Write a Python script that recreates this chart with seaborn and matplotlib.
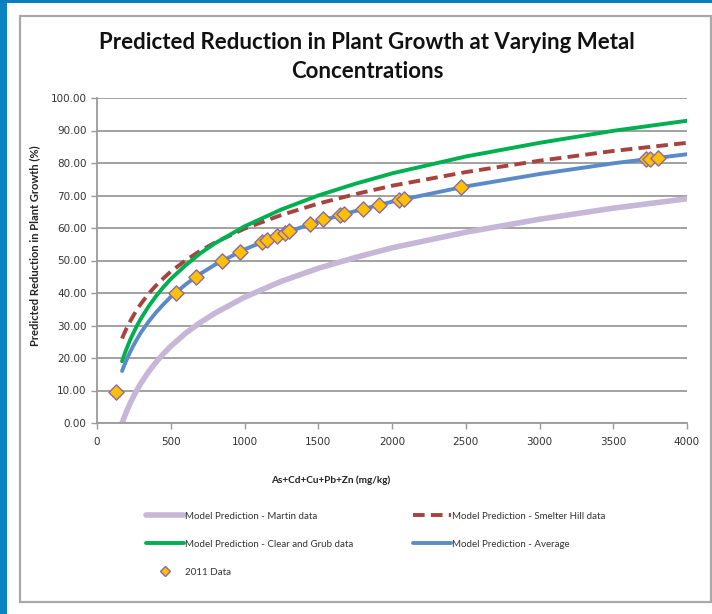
import numpy as np
import pandas as pd
import matplotlib
matplotlib.use("Agg")
import matplotlib.pyplot as plt
from matplotlib.patches import Rectangle
from matplotlib.lines import Line2D
import seaborn as sns

# ---- data ----
conc = [170, 180, 190, 200, 225, 250, 275, 300, 350, 400, 450, 500, 600, 700,
        800, 1000, 1250, 1500, 1750, 2000, 2500, 3000, 3500, 4000]
martin = [0.0, 1.2, 2.4, 3.5, 6.1, 8.4, 10.5, 12.4, 15.8, 18.7, 21.3, 23.6,
          27.6, 30.9, 33.8, 38.7, 43.6, 47.6, 50.9, 53.9, 58.7, 62.7, 66.1, 69.0]
smelter = [26.0, 27.1, 28.1, 29.1, 31.3, 33.3, 35.2, 36.8, 39.8, 42.3, 44.5,
           46.6, 50.0, 53.0, 55.5, 59.8, 64.0, 67.5, 70.4, 73.0, 77.2, 80.7,
           83.7, 86.2]
clear_grub = [19.0, 20.3, 21.6, 22.8, 25.6, 28.0, 30.3, 32.3, 35.9, 39.0, 41.8,
              44.3, 48.5, 52.2, 55.3, 60.5, 65.7, 70.0, 73.6, 76.8, 82.0, 86.2,
              89.9, 93.0]
average = [16.0, 17.2, 18.3, 19.4, 21.9, 24.1, 26.1, 28.0, 31.2, 34.0, 36.5,
           38.8, 42.6, 45.9, 48.7, 53.4, 58.1, 62.0, 65.2, 68.1, 72.8, 76.6,
           79.9, 82.7]

data2011_x = [130, 533, 671, 845, 970, 1117, 1155, 1218, 1275, 1304, 1444, 1534,
              1647, 1675, 1806, 1910, 2047, 2083, 2468, 3720, 3750, 3800]
data2011_y = [9.6, 40.1, 45.0, 49.7, 52.6, 55.8, 56.4, 57.6, 58.6, 59.1, 61.2,
              62.7, 63.9, 64.2, 65.9, 67.2, 68.6, 68.9, 72.5, 81.1, 81.3, 81.6]

series_names = ["Model Prediction - Martin data",
                "Model Prediction - Smelter Hill data",
                "Model Prediction - Clear and Grub data",
                "Model Prediction - Average"]
scatter_name = "2011 Data"
title = "Predicted Reduction in Plant Growth at Varying Metal\nConcentrations"
xlabel = "As+Cd+Cu+Pb+Zn (mg/kg)"
ylabel = "Predicted Reduction in Plant Growth (%)"
xticks = [0, 500, 1000, 1500, 2000, 2500, 3000, 3500, 4000]
yticks = [0, 10, 20, 30, 40, 50, 60, 70, 80, 90, 100]

# ---- styles ----
colors = {series_names[0]: "#c6b6d8", series_names[1]: "#a8423e",
          series_names[2]: "#00b050", series_names[3]: "#5b8bc7"}
widths = {series_names[0]: 4.0, series_names[1]: 2.8,
          series_names[2]: 2.8, series_names[3]: 2.8}
dash_pat = (3.0, 1.6)

sns.set_theme(style="white")
plt.rcParams["font.family"] = ["DejaVu Sans"]

fig = plt.figure(figsize=(7.12, 6.14), dpi=100)
fig.patch.set_facecolor("white")

# slide background strip & chart frame
fig.patches.append(Rectangle((0, 0), 7 / 712, 1, transform=fig.transFigure,
                             facecolor="#0b84c6", edgecolor="none", zorder=-3))
fig.patches.append(Rectangle((0, 1 - 3 / 614), 1, 3 / 614, transform=fig.transFigure,
                             facecolor="#0b7cbd", edgecolor="none", zorder=-3))
fig.patches.append(Rectangle((20 / 712, 1 - 602 / 614), 691 / 712, 586 / 614,
                             transform=fig.transFigure, facecolor="white",
                             edgecolor="#a9a9a9", linewidth=1.6, zorder=-2))

ax = fig.add_axes([97 / 712, 1 - 423 / 614, 590 / 712, 325 / 614])
ax.set_zorder(2)
ax.set_facecolor("none")

df = pd.DataFrame({
    "conc": conc * 4,
    "value": martin + smelter + clear_grub + average,
    "series": sum([[n] * len(conc) for n in series_names], []),
})

for name in series_names:
    sub = df[df["series"] == name]
    sns.lineplot(data=sub, x="conc", y="value", ax=ax, color=colors[name],
                 linewidth=widths[name], legend=False,
                 zorder=3 if name != series_names[0] else 2)
    ax.lines[-1].set_solid_joinstyle("round")
    if name == series_names[1]:
        ax.lines[-1].set_linestyle("--")
        ax.lines[-1].set_dashes(dash_pat)

sns.scatterplot(x=data2011_x, y=data2011_y, ax=ax, marker="D", s=60,
                color="#ffc000", edgecolor="#8a6aa8", linewidth=1.0,
                zorder=5, legend=False)

ax.set_xlim(0, 4000)
ax.set_ylim(0, 100)
ax.set_xticks(xticks)
ax.set_yticks(yticks)
ax.set_xticklabels([str(t) for t in xticks])
ax.set_yticklabels([f"{t:.2f}" for t in yticks])
ax.yaxis.grid(True, color="#9a9a9a", linewidth=1.3)
ax.xaxis.grid(False)
for s in ["top", "right"]:
    ax.spines[s].set_visible(False)
for s in ["left", "bottom"]:
    ax.spines[s].set_color("#9a9a9a")
    ax.spines[s].set_linewidth(1.3)
ax.tick_params(axis="both", which="both", direction="out", length=4,
               width=1.0, color="#9a9a9a", labelsize=7.5, labelcolor="#333333",
               left=True, bottom=True)
ax.tick_params(axis="x", pad=6)
ax.set_xlabel("")
ax.set_ylabel("")

fig.text(331 / 712, 1 - 480 / 614, xlabel, ha="center", va="center",
         fontsize=7.2, fontweight="bold", color="#222222",
         family=["Lato", "DejaVu Sans"])
fig.text(35 / 712, 1 - 246 / 614, ylabel, ha="center", va="center",
         rotation=90, fontsize=8, fontweight="bold", color="#222222",
         family=["Lato", "DejaVu Sans"])
fig.text(367 / 712, 1 - 57 / 614, title, ha="center", va="center",
         fontsize=16, fontweight="bold", color="#111111", linespacing=1.45,
         family=["Lato", "DejaVu Sans"])

def line_handle(name):
    h = Line2D([], [], color=colors[name], linewidth=widths[name])
    if name == series_names[1]:
        h.set_linestyle("--")
        h.set_dashes(dash_pat)
    return h

marker_handle = Line2D([], [], linestyle="none", marker="D", markersize=5,
                       markerfacecolor="#ffc000", markeredgecolor="#8a6aa8")
handles = [line_handle(series_names[0]), line_handle(series_names[2]), marker_handle,
           line_handle(series_names[1]), line_handle(series_names[3])]
labels = [series_names[0], series_names[2], scatter_name,
          series_names[1], series_names[3]]
leg = fig.legend(handles, labels, ncol=2, loc="upper left",
                 bbox_to_anchor=(137 / 712, 1 - 503 / 614), frameon=False,
                 prop={"family": ["Lato", "DejaVu Sans"], "size": 7},
                 handlelength=3.9, handletextpad=0.1,
                 columnspacing=6.2, labelspacing=1.95)
for t in leg.get_texts():
    t.set_color("#333333")

fig.savefig("out.png", dpi=100)
